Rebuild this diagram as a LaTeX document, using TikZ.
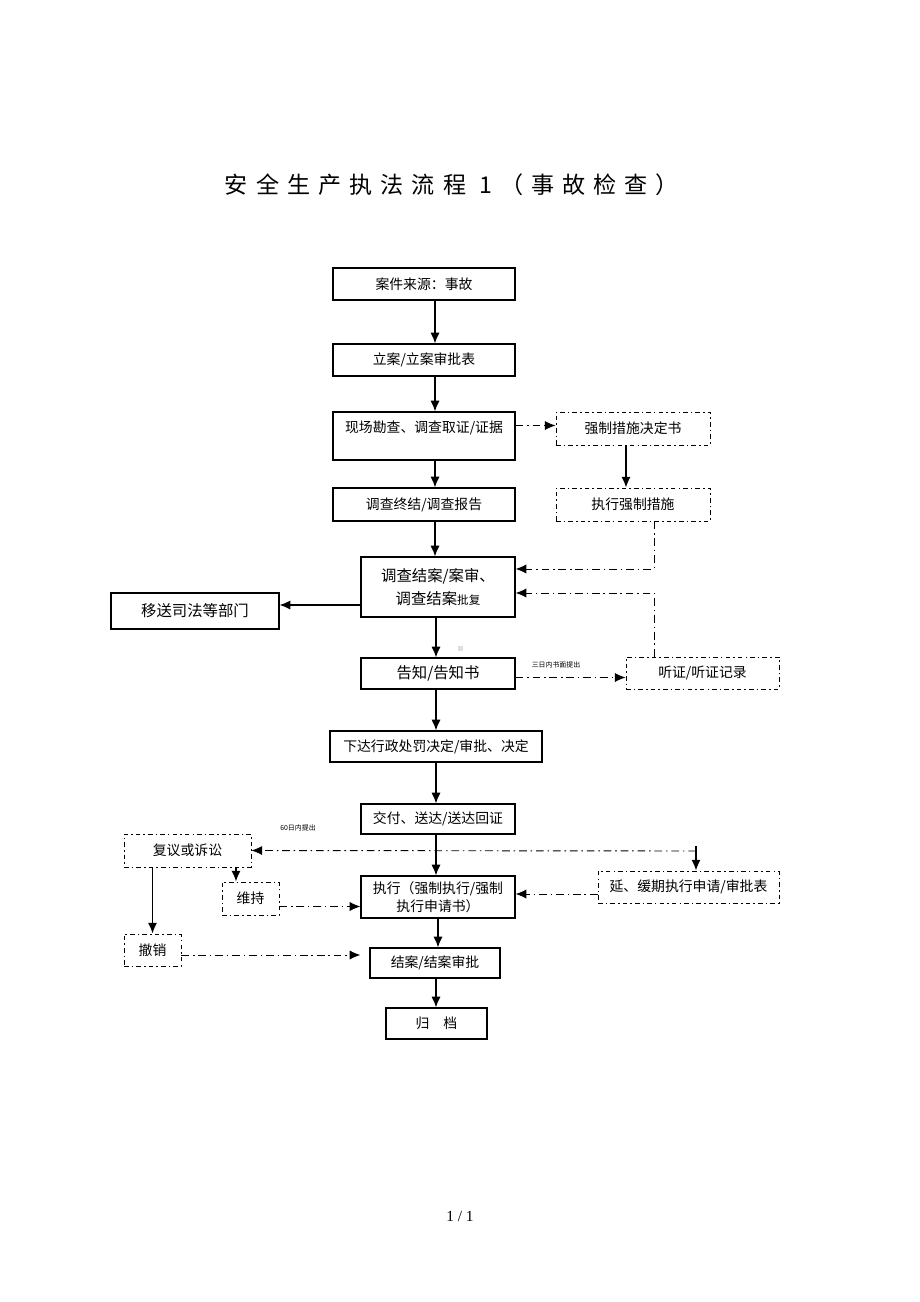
\documentclass[tikz,border=0pt]{standalone}
\usepackage{fontspec}
\usepackage{tikz}
\usetikzlibrary{arrows.meta}
\setmainfont{Liberation Serif}
\newfontfamily\cjk{Noto Sans CJK SC}
\newfontfamily\cjktitle[LetterSpace=35]{Noto Sans CJK SC}
\newcommand{\px}{0.65pt}
\tikzset{
    flow-box/.style = {draw, line width=0.8pt, rectangle, inner sep=1pt, align=center, font=\cjk\fontsize{9}{11.5}\selectfont},
    flow-box-big/.style = {flow-box, font=\cjk\fontsize{10}{15}\selectfont},
    side-box/.style = {draw, line width=0.6pt, dash pattern=on 3pt off 2pt on 1pt off 2pt, rectangle, inner sep=1pt, align=center, font=\cjk\fontsize{9}{11}\selectfont},
    flow-arrow/.style = {line width=0.9pt, -{Latex[length=7pt,width=6pt]}},
    side-arrow/.style = {line width=0.6pt, dash pattern=on 5pt off 2.5pt on 1pt off 2.5pt, -{Latex[length=7pt,width=6pt]}},
    tiny-note/.style = {font=\cjk\fontsize{4.5}{5}\selectfont, inner sep=0pt},
}

\begin{document}
\begin{tikzpicture}[x=\px, y=-\px]
\useasboundingbox[fill=white] (0,0) rectangle (920,1302);

\node[font=\cjktitle\fontsize{15}{17}\selectfont] (title) at (452,185) {安全生产执法流程 1（事故检查）};

% main column
\node[flow-box, minimum width=182*\px, minimum height=32*\px] (source) at (424,284) {案件来源：事故};
\node[flow-box, minimum width=182*\px, minimum height=32*\px] (filing) at (424,360) {立案/立案审批表};
\node[flow-box, minimum width=182*\px, minimum height=48*\px] (survey) at (424,436) {现场勘查、调查取证/证据\\~};
\node[flow-box, minimum width=182*\px, minimum height=33*\px] (report) at (424,504.5) {调查终结/调查报告};
\node[flow-box-big, minimum width=154*\px, minimum height=60*\px] (review) at (438,587) {调查结案/案审、\\调查结案{\fontsize{7.5}{9}\selectfont 批复}};
\node[flow-box-big, minimum width=154*\px, minimum height=31*\px] (notice) at (438,673.5) {告知/告知书};
\node[flow-box, minimum width=212*\px, minimum height=31*\px] (decision) at (436,746.5) {下达行政处罚决定/审批、决定};
\node[flow-box, minimum width=154*\px, minimum height=30*\px] (deliver) at (438,819) {交付、送达/送达回证};
\node[flow-box, minimum width=154*\px, minimum height=42*\px] (execute) at (438,897) {执行（强制执行/强制\\执行申请书）};
\node[flow-box, minimum width=130*\px, minimum height=30*\px] (close) at (435,963) {结案/结案审批};
\node[flow-box, minimum width=101*\px, minimum height=31*\px] (archive) at (436.5,1023.5) {归\quad 档};

% side boxes
\node[flow-box-big, minimum width=168*\px, minimum height=36*\px] (transfer) at (195,611) {移送司法等部门};
\node[side-box, minimum width=154*\px, minimum height=33*\px] (measure) at (633,428.5) {强制措施决定书};
\node[side-box, minimum width=154*\px, minimum height=33*\px] (enforce-measure) at (633,504.5) {执行强制措施};
\node[side-box, minimum width=153*\px, minimum height=32*\px] (hearing) at (702.5,673) {听证/听证记录};
\node[side-box, minimum width=127*\px, minimum height=33*\px] (appeal) at (187.5,850.5) {复议或诉讼};
\node[side-box, minimum width=57*\px, minimum height=33*\px] (uphold) at (250.5,898.5) {维持};
\node[side-box, minimum width=181*\px, minimum height=32*\px] (defer) at (688.5,887) {延、缓期执行申请/审批表};
\node[side-box, minimum width=57*\px, minimum height=32*\px] (revoke) at (152.5,950) {撤销};

\node[tiny-note] (note-3day) at (556,665) {三日内书面提出};
\node[tiny-note] (note-60day) at (298,828) {60日内提出};

% helper coordinates
\coordinate (axis-a) at (435,0);
\coordinate (axis-b) at (436,0);
\coordinate (axis-c) at (438,0);
\coordinate (split) at (696,851);
\coordinate (uphold-in) at (236,0);

% main arrows
\draw[flow-arrow] (source.south -| axis-a) -- (filing.north -| axis-a);
\draw[flow-arrow] (filing.south -| axis-a) -- (survey.north -| axis-a);
\draw[flow-arrow] (survey.south -| axis-a) -- (report.north -| axis-a);
\draw[flow-arrow] (report.south -| axis-a) -- (review.north -| axis-a);
\draw[flow-arrow] (review.south -| axis-b) -- (notice.north -| axis-b);
\draw[flow-arrow] (notice.south -| axis-b) -- (decision.north -| axis-b);
\draw[flow-arrow] (decision.south -| axis-b) -- (deliver.north -| axis-b);
\draw[flow-arrow] (deliver.south -| axis-b) -- (execute.north -| axis-b);
\draw[flow-arrow] (execute.south -| axis-c) -- (close.north -| axis-c);
\draw[flow-arrow] (close.south -| axis-b) -- (archive.north -| axis-b);

% side arrows
\draw[side-arrow] ([yshift=3*\px]survey.east |- measure) -- ([yshift=3*\px]measure.west);
\draw[flow-arrow] ([xshift=-7*\px]measure.south) -- ([xshift=-7*\px]enforce-measure.north);
\draw[side-arrow] ([xshift=21*\px]enforce-measure.south) |- ([yshift=18*\px]review.east);
\draw[side-arrow] ([xshift=-48*\px]hearing.north) |- ([yshift=-6*\px]review.east);
\draw[flow-arrow] ([yshift=-18*\px]review.west) -- ([yshift=-18*\px]review.west -| transfer.east);
\draw[side-arrow] ([yshift=-4*\px]notice.east) -- ([yshift=-4*\px]notice.east -| hearing.west);
\draw[side-arrow] (split) -- (appeal.east);
\draw[flow-arrow] ([yshift=5*\px]split) -- (split |- defer.north);
\draw[flow-arrow] (appeal.south -| uphold-in) -- (uphold.north -| uphold-in);
\draw[flow-arrow] (appeal.south -| revoke) -- (revoke.north);
\draw[side-arrow] ([yshift=-8*\px]uphold.east) -- ([yshift=-8*\px]uphold.east -| execute.west);
\draw[side-arrow] ([yshift=-7*\px]defer.west) -- ([yshift=-7*\px]defer.west -| execute.east);
\draw[side-arrow] ([yshift=-5*\px]revoke.east) -- ([yshift=-5*\px]revoke.east -| execute.west);

\fill[gray!25] (458,646) rectangle (463,651);

\node[font=\fontsize{10}{12}\selectfont] (page) at (460,1216) {1 / 1};
\end{tikzpicture}
\end{document}
